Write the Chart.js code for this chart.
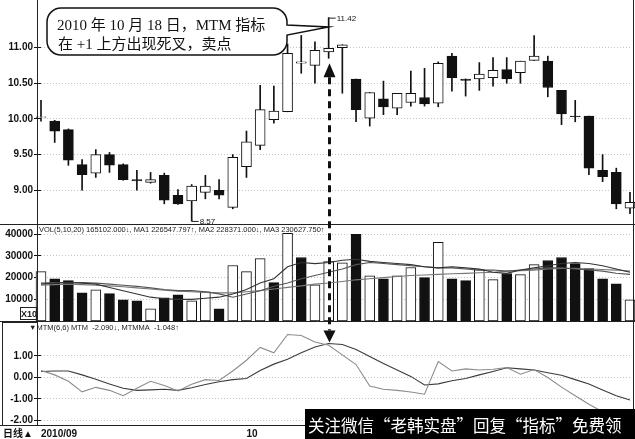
<!DOCTYPE html>
<html>
<head>
<meta charset="utf-8">
<title>MTM</title>
<script src="https://cdn.jsdelivr.net/npm/chart.js@4.4.1/dist/chart.umd.min.js"></script>
<style>
  html, body { margin: 0; padding: 0; background: #fff; }
  canvas { display: block; }
</style>
</head>
<body>
<canvas id="myChart" width="635" height="439"></canvas>
<script>
// daily bars 2010/09/07 - 2010/11/17
const dates = ['2010/09/07','2010/09/08','2010/09/09','2010/09/10','2010/09/13','2010/09/14','2010/09/15','2010/09/16','2010/09/17','2010/09/20',
  '2010/09/21','2010/09/27','2010/09/28','2010/09/29','2010/09/30','2010/10/08','2010/10/11','2010/10/12','2010/10/13','2010/10/14',
  '2010/10/15','2010/10/18','2010/10/19','2010/10/20','2010/10/21','2010/10/22','2010/10/25','2010/10/26','2010/10/27','2010/10/28',
  '2010/10/29','2010/11/01','2010/11/02','2010/11/03','2010/11/04','2010/11/05','2010/11/08','2010/11/09','2010/11/10','2010/11/11',
  '2010/11/12','2010/11/15','2010/11/16','2010/11/17'];

const open  = [10.02, 9.97, 9.85, 9.36, 9.24, 9.50, 9.36, 9.15, 9.11, 9.21, 8.93, 8.85, 8.97, 9.00, 8.76, 9.33, 9.63, 9.99, 10.10, 10.78, 10.75,
  10.94, 11.00, 10.56, 10.01, 10.28, 10.15, 10.23, 10.30, 10.22, 10.88, 10.56, 10.56, 10.58, 10.69, 10.65, 10.82, 10.81, 10.40, 10.04, 10.04, 9.28, 9.25, 8.75];
const high  = [10.26, 9.98, 9.86, 9.43, 9.57, 9.53, 9.37, 9.28, 9.25, 9.24, 9.01, 9.08, 9.21, 9.15, 9.50, 9.83, 10.47, 10.46, 11.05, 11.17, 11.08,
  11.42, 11.04, 10.56, 10.37, 10.53, 10.36, 10.67, 10.71, 10.80, 10.92, 10.56, 10.79, 10.86, 10.86, 10.81, 11.17, 10.88, 10.40, 10.26, 10.04, 9.50, 9.31, 8.97];
const low   = [9.97, 9.67, 9.35, 9.00, 9.18, 9.25, 9.14, 9.00, 9.10, 8.81, 8.80, 8.57, 8.88, 8.88, 8.74, 9.18, 9.57, 9.94, 10.10, 10.64, 10.50,
  10.85, 10.36, 9.96, 9.90, 10.06, 10.06, 10.18, 10.18, 10.17, 10.39, 10.32, 10.40, 10.46, 10.50, 10.50, 10.82, 10.31, 9.92, 9.96, 9.22, 9.12, 8.74, 8.67];
const close = [10.03, 9.83, 9.42, 9.22, 9.50, 9.35, 9.15, 9.13, 9.15, 8.86, 8.81, 9.06, 9.06, 8.93, 9.46, 9.68, 10.13, 10.11, 10.92, 10.80, 10.96,
  10.99, 11.04, 10.13, 10.37, 10.17, 10.36, 10.36, 10.21, 10.78, 10.58, 10.54, 10.63, 10.68, 10.56, 10.81, 10.88, 10.44, 10.07, 10.03, 9.31, 9.19, 8.81, 8.83];

// volume (x10) and bar colour, 1 = hollow
const volume = [22800, 19500, 18600, 13000, 14400, 12600, 9800, 9300, 5600, 10700, 12100, 9300, 13500, 5600, 25600, 22800, 28800, 17700, 40500, 29300, 16700,
  27400, 26800, 40000, 20900, 19500, 20900, 24700, 20000, 36300, 19500, 18600, 23700, 19100, 21900, 21400, 26000, 27900, 29300, 26500, 24200, 19500, 17200, 9800];
const volUp = [1,0,0,0,1,0,0,0,1,0, 0,1,1,0,1,1,1,0,1,0, 1,1,1,0,1,0,1,1,0,1, 0,0,1,1,0,1,1,0,0,0, 0,0,0,1];
const volMa1 = [17000, 17500, 17800, 17500, 17000, 15500, 14000, 12500, 11000, 10300, 10000, 10000, 10500, 11000, 12500, 14500, 17500, 19500, 25000, 27000, 26500,
  27000, 28000, 28500, 27500, 27000, 26500, 26000, 25000, 24500, 25000, 24500, 24000, 22500, 22000, 23500, 24500, 25500, 26500, 27000, 26500, 25500, 24000, 22500];
const volMa2 = [17500, 17800, 17800, 17700, 17500, 17000, 16500, 16000, 15300, 14500, 14000, 14000, 13500, 12500, 11000, 12500, 14000, 16000, 17500, 19500, 21000,
  22500, 24000, 26000, 27000, 26500, 26000, 25500, 25000, 24500, 24500, 24000, 23500, 23500, 23000, 23500, 24000, 24500, 24500, 24000, 23500, 23000, 22000, 21500];
const volMa3 = [16500, 16800, 17000, 16800, 16500, 16200, 15800, 15300, 14800, 14200, 13800, 13500, 13200, 13000, 13000, 13500, 14000, 14800, 15500, 16200, 17000,
  17500, 18200, 19000, 19500, 20000, 20500, 21000, 21200, 21500, 21800, 22000, 22300, 22500, 23000, 23200, 23500, 24000, 24200, 24300, 24000, 23800, 23500, 23000];

// MTM(6,6)
const mtm = [0.32, 0.12, -0.18, -0.67, -0.46, -0.6, -0.85, -0.5, -0.18, -0.37, -0.63, -0.32, -0.1, -0.14, 0.3, 0.8, 1.4, 1.15, 2.0, 1.95, 1.65,
  1.5, 1.05, 0.6, -0.4, -0.55, -0.6, -0.68, -0.78, 0.74, 0.3, 0.4, 0.35, 0.38, 0.46, 0.15, 0.37, 0.0, -0.45, -0.85, -1.25, -1.6, -1.9, -2.09];
const mtmMa = [0.28, 0.3, 0.3, 0.12, -0.08, -0.3, -0.5, -0.6, -0.58, -0.55, -0.6, -0.48, -0.33, -0.2, -0.1, -0.05, 0.32, 0.62, 0.85, 1.15, 1.42,
  1.58, 1.53, 1.3, 0.98, 0.65, 0.35, 0.05, -0.35, -0.3, -0.15, -0.05, 0.12, 0.28, 0.45, 0.4, 0.35, 0.22, 0.1, -0.1, -0.3, -0.58, -0.85, -1.048];

const priceTicks = [9, 9.5, 10, 10.5, 11];
const volTicks = [10000, 20000, 30000, 40000];
const mtmTicks = [-2, -1, 0, 1];

const signalDay = dates.indexOf('2010/10/18');

// month starts for the x labels
const monthLabel = dates.map((d, i) => {
  if (i == 0) return d.slice(0, 7);
  return d.slice(5, 7) != dates[i - 1].slice(5, 7) ? d.slice(5, 7) : '';
});

const BLACK = '#111';
const axisFont = { family: 'Liberation Sans', weight: 'bold', size: 10 };
const CLIP = { left: 7, right: 7, top: 0, bottom: 0 };

function yAxis(stackWeight, min, max, ticks, fmt) {
  return {
    type: 'linear', position: 'left', stack: 'panels', stackWeight: stackWeight,
    min: min, max: max,
    afterBuildTicks: s => { s.ticks = ticks.map(v => ({ value: v })); },
    afterFit: s => { s.width = 41; },
    ticks: { font: axisFont, color: BLACK, padding: 1, callback: fmt },
    grid: { color: '#c4c4c4', tickColor: BLACK, tickLength: 7 },
    border: { display: false, dash: [1, 2] }
  };
}

function line(data, axis, color) {
  return {
    type: 'line', yAxisID: axis, order: 0, clip: CLIP,
    data: data,
    borderColor: color, borderWidth: 1.1, pointRadius: 0, tension: 0
  };
}

// bits the library has no element for
const extras = {
  id: 'extras',
  afterDraw(chart) {
    const c = chart.ctx;
    const xs = chart.scales.x, ys = chart.scales.y, yv = chart.scales.yv, ym = chart.scales.ym;
    const L = 37, R = 633, B = chart.chartArea.bottom;
    c.save();

    // panel frames
    c.strokeStyle = '#222';
    c.lineWidth = 1;
    c.beginPath();
    c.moveTo(0, Math.round(yv.top) + 0.5); c.lineTo(635, Math.round(yv.top) + 0.5);
    c.moveTo(0, Math.round(ym.top) + 0.5); c.lineTo(635, Math.round(ym.top) + 0.5);
    c.moveTo(0, Math.round(B) + 0.5); c.lineTo(635, Math.round(B) + 0.5);
    c.moveTo(L + 0.5, 0); c.lineTo(L + 0.5, B);
    c.moveTo(R + 0.5, 0); c.lineTo(R + 0.5, B);
    c.stroke();
    c.strokeRect(2.5, Math.round(ym.top) + 1.5, L - 2, B - ym.top - 1);

    // panel headers
    c.fillStyle = '#222';
    c.font = '7.5px "Liberation Sans"';
    c.fillText('VOL(5,10,20) 165102.000\u2193, MA1 226547.797\u2191, MA2 228371.000\u2193, MA3 230627.750\u2191', L + 2, yv.top + 8);
    c.fillText('\u25BCMTM(6,6) MTM  ' + mtm[mtm.length - 1].toFixed(3) + '\u2193, MTMMA  ' + mtmMa[mtmMa.length - 1].toFixed(3) + '\u2191', 29, ym.top + 9);
    c.strokeRect(20.5, yv.bottom - 13.5, 16, 12);
    c.font = 'bold 9px "Liberation Sans"';
    c.fillText('X10', 21, yv.bottom - 4);
    c.font = 'bold 10px "Liberation Sans", "Noto Sans CJK SC"';
    c.fillStyle = BLACK;
    c.fillText('日线\u25B2', 3, 437);

    // high / low marks
    const hiIdx = high.indexOf(Math.max(...high)), loIdx = low.indexOf(Math.min(...low));
    const hx = xs.getPixelForValue(hiIdx), hy = ys.getPixelForValue(high[hiIdx]);
    const lx = xs.getPixelForValue(loIdx), ly = ys.getPixelForValue(low[loIdx]);
    c.beginPath();
    c.moveTo(hx, hy + 0.5); c.lineTo(hx + 7, hy + 0.5);
    c.moveTo(lx, ly - 2); c.lineTo(lx, ly + 0.5); c.lineTo(lx + 7, ly + 0.5);
    c.stroke();
    c.font = '8px "Liberation Sans"';
    c.fillText(high[hiIdx].toFixed(2), hx + 8, hy + 3);
    c.fillText(low[loIdx].toFixed(2), lx + 8, ly + 3);

    // dashed arrow from the candle down to the cross
    const ax = Math.round(xs.getPixelForValue(signalDay)) + 0.5;
    const upTip = ys.getPixelForValue(low[signalDay]) + 5;
    const downTip = ym.getPixelForValue(mtmMa[signalDay]) - 1;
    c.strokeStyle = BLACK;
    c.lineWidth = 3;
    c.setLineDash([7, 5]);
    c.beginPath();
    c.moveTo(ax, upTip + 14); c.lineTo(ax, downTip - 12);
    c.stroke();
    c.setLineDash([]);
    c.fillStyle = BLACK;
    c.beginPath();
    c.moveTo(ax, upTip); c.lineTo(ax - 6, upTip + 14); c.lineTo(ax + 6, upTip + 14); c.closePath();
    c.moveTo(ax, downTip); c.lineTo(ax - 6, downTip - 12); c.lineTo(ax + 6, downTip - 12); c.closePath();
    c.fill();

    // speech bubble
    const bx = 47, by = 8, bw = 240, bh = 47, r = 14;
    c.beginPath();
    c.moveTo(bx + r, by);
    c.lineTo(bx + bw - r, by);
    c.arcTo(bx + bw, by, bx + bw, by + r, r);
    c.lineTo(bx + bw, 25);
    c.lineTo(ax - 1, 27);
    c.lineTo(bx + bw, 35);
    c.lineTo(bx + bw, by + bh - r);
    c.arcTo(bx + bw, by + bh, bx + bw - r, by + bh, r);
    c.lineTo(bx + r, by + bh);
    c.arcTo(bx, by + bh, bx, by + bh - r, r);
    c.lineTo(bx, by + r);
    c.arcTo(bx, by, bx + r, by, r);
    c.closePath();
    c.fillStyle = '#fff';
    c.fill();
    c.lineWidth = 1.5;
    c.strokeStyle = BLACK;
    c.stroke();
    c.fillStyle = BLACK;
    c.font = '15px "Liberation Serif", "Noto Sans CJK SC"';
    c.fillText('2010 年 10 月 18 日，MTM 指标', 57, 30);
    c.fillText('在 +1 上方出现死叉，卖点', 58, 49);

    // watermark strip
    c.fillStyle = '#000';
    c.fillRect(305, 409, 330, 30);
    c.fillStyle = '#fff';
    c.font = '16.5px "Noto Sans CJK SC"';
    c.fillText('关注微信“老韩实盘”回复“指标”免费领', 308, 432);
    c.restore();
  }
};

const ctx = document.getElementById('myChart');
const myChart = new Chart(ctx, {
  type: 'bar',
  data: {
    labels: dates,
    datasets: [
      { // candle bodies
        yAxisID: 'y', order: 1, grouped: false, barThickness: 10, clip: CLIP,
        data: dates.map((d, i) => [open[i], close[i]]),
        backgroundColor: dates.map((d, i) => close[i] >= open[i] ? '#fff' : BLACK),
        borderColor: BLACK, borderWidth: 1, borderSkipped: false
      },
      { // wicks
        yAxisID: 'y', order: 2, grouped: false, barThickness: 1, clip: CLIP,
        data: dates.map((d, i) => [low[i], high[i]]),
        backgroundColor: BLACK
      },
      { // volume
        yAxisID: 'yv', order: 3, grouped: false, barThickness: 10, clip: CLIP,
        data: volume,
        backgroundColor: volUp.map(u => u ? '#fff' : BLACK),
        borderColor: BLACK, borderWidth: 1, borderSkipped: false
      },
      line(volMa1, 'yv', '#333'),
      line(volMa2, 'yv', '#555'),
      line(volMa3, 'yv', '#777'),
      line(mtm, 'ym', '#8c8c8c'),
      line(mtmMa, 'ym', '#3c3c3c')
    ]
  },
  options: {
    responsive: false,
    animation: false,
    layout: { padding: { top: 3, right: 5, left: 0, bottom: 0 } },
    plugins: { legend: { display: false }, tooltip: { enabled: false } },
    scales: {
      x: {
        type: 'category', offset: false,
        afterFit: s => { s.height = 14; s.paddingLeft = 0; s.paddingRight = 0; },
        ticks: {
          font: axisFont, color: BLACK, align: 'start', padding: 3, maxRotation: 0, autoSkip: false,
          callback: (v, i) => monthLabel[i]
        },
        grid: { display: false, drawTicks: false },
        border: { display: false }
      },
      ym: yAxis(105, -2.212, 2.627, mtmTicks, v => v.toFixed(2)),
      yv: yAxis(98, 0, 44800, volTicks, v => String(v)),
      y: yAxis(219, 8.528, 11.569, priceTicks, v => v.toFixed(2))
    }
  },
  plugins: [extras]
});
</script>
</body>
</html>
